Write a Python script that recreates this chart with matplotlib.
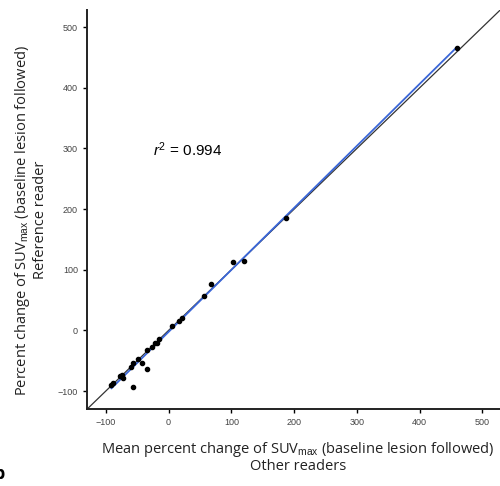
import numpy as np
import matplotlib
matplotlib.use('Agg')
import matplotlib.pyplot as plt

plt.rcParams['font.family'] = ['Open Sans', 'DejaVu Sans']
plt.rcParams['mathtext.fontset'] = 'custom'
plt.rcParams['mathtext.rm'] = 'Liberation Sans'
plt.rcParams['mathtext.it'] = 'Liberation Sans:italic'

# mean of other readers vs reference reader (% change of SUVmax)
other = [459, 187, 120, 102, 67, 56, 21, 16, 5, -16, -19, -21, -27, -35, -35,
         -43, -48, -56, -60, -57, -72, -75, -78, -89, -91]
ref = [465, 185, 115, 112, 76, 56, 21, 15, 7, -15, -20, -21, -28, -33, -64,
       -53, -48, -54, -61, -94, -79, -74, -76, -87, -90]
r2_text = '$r^2$ = 0.994'

x = np.array(other, dtype=float)
y = np.array(ref, dtype=float)
b, a = np.polyfit(x, y, 1)

fig = plt.figure(figsize=(5, 4.86), dpi=100)
ax = fig.add_axes([0.174, 0.158, 0.826, 0.821])

lim = (-130, 528)
ax.plot(lim, lim, color='#333333', lw=0.9, zorder=1)
xs = np.array([x.min(), x.max()])
ax.plot(xs, a + b * xs, color='#3a66d8', lw=1.3, zorder=2)
ax.plot(x, y, 'o', color='black', ms=3.0, zorder=3)

ax.set_xlim(lim)
ax.set_ylim(lim)
ticks = [-100, 0, 100, 200, 300, 400, 500]
ax.set_xticks(ticks)
ax.set_yticks(ticks)
ax.tick_params(labelsize=6.5, labelcolor='#444444', length=3, width=1, direction='out')
for lab in ax.get_xticklabels() + ax.get_yticklabels():
    lab.set_family('Liberation Sans')
for s in ['top', 'right']:
    ax.spines[s].set_visible(False)
for s in ['left', 'bottom']:
    ax.spines[s].set_linewidth(1.4)
    ax.spines[s].set_color('#222222')

ax.text(-25, 298, r2_text, fontsize=11, va='center', ha='left', family='Liberation Sans')

ax.set_xlabel('Mean percent change of SUV$_{\\mathrm{max}}$ (baseline lesion followed)\nOther readers',
              fontsize=10.5, color='#222222', labelpad=9, linespacing=1.05)
ax.set_ylabel('Percent change of SUV$_{\\mathrm{max}}$ (baseline lesion followed)\nReference reader',
              fontsize=10.5, color='#222222', labelpad=7, linespacing=1.05)
ax.xaxis.label.set_x(0.51)
ax.yaxis.label.set_y(0.474)

fig.text(-0.012, 0.015, 'b', fontsize=13, fontweight='bold')

fig.savefig('out.png', dpi=100)
